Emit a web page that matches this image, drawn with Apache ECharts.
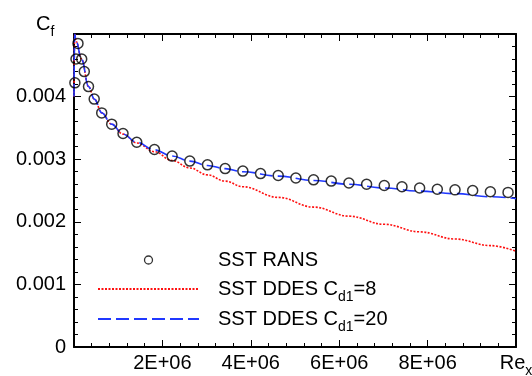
<!DOCTYPE html>
<html>
<head>
<meta charset="utf-8">
<script src="https://cdn.jsdelivr.net/npm/echarts@6/dist/echarts.min.js"></script>
<style>
  html, body { margin: 0; padding: 0; background: #fff; }
  #chart { width: 532px; height: 376px; }
</style>
</head>
<body>
<div id="chart"></div>
<script>
// SST RANS (circles)
const ransX = [0.02e6, 0.045e6, 0.09e6, 0.174e6, 0.233e6, 0.328e6, 0.457e6, 0.627e6, 0.853e6, 1.109e6,
  1.42e6, 1.82e6, 2.22e6, 2.62e6, 3.02e6, 3.42e6, 3.82e6, 4.22e6, 4.62e6, 5.02e6, 5.42e6,
  5.82e6, 6.22e6, 6.62e6, 7.02e6, 7.42e6, 7.82e6, 8.22e6, 8.62e6, 9.02e6, 9.42e6, 9.82e6];
const ransY = [0.00422, 0.00460, 0.00485, 0.00460, 0.00440, 0.00416, 0.00396, 0.00374, 0.00356, 0.00341,
  0.00327, 0.003155, 0.00305, 0.00297, 0.00291, 0.00285, 0.00281, 0.00277, 0.00274, 0.00270, 0.00267,
  0.00265, 0.00262, 0.00260, 0.00258, 0.00256, 0.00254, 0.00252, 0.00251, 0.00250, 0.00248, 0.00247];

// SST DDES Cd1=8 (red dotted)
const ddes8X = [0, 0.015e6, 0.05e6, 0.17e6, 0.33e6, 0.46e6, 0.63e6, 0.85e6, 1.11e6, 1.42e6,
  1.82e6, 2.22e6, 2.62e6, 3.02e6, 3.42e6, 3.82e6, 4.62e6, 5.42e6, 6.22e6, 7.02e6, 7.82e6, 8.62e6, 9.42e6, 10e6];
const ddes8Y = [0.0040, 0.0050, 0.00488, 0.00460, 0.00416, 0.00396, 0.00374, 0.00356, 0.00340, 0.00326,
  0.00312, 0.00298, 0.00286, 0.00275, 0.00265, 0.00256, 0.00239, 0.002235, 0.00209, 0.00196, 0.00184, 0.001725, 0.00162, 0.00153];

// SST DDES Cd1=20 (blue dashed)
const ddes20X = [0, 0.015e6, 0.05e6, 0.17e6, 0.33e6, 0.46e6, 0.63e6, 0.85e6, 1.11e6, 1.42e6,
  1.82e6, 2.22e6, 2.62e6, 3.02e6, 3.42e6, 3.82e6, 4.62e6, 5.42e6, 6.22e6, 7.02e6, 7.82e6, 8.62e6, 9.42e6, 10e6];
const ddes20Y = [0.0040, 0.0050, 0.00488, 0.00460, 0.00416, 0.00396, 0.00374, 0.00356, 0.00340, 0.00327,
  0.00315, 0.00305, 0.00297, 0.00290, 0.00285, 0.00280, 0.00273, 0.00266, 0.00260, 0.00254, 0.00249, 0.00245, 0.00240, 0.00237];

const xTicks = { min: 0, max: 1e7, interval: 2e6 };
const yTicks = { min: 0, max: 0.005, interval: 0.001 };

const FONT = 'Liberation Sans';

function zip(xs, ys) {
  return xs.map((x, i) => [x, ys[i]]);
}

// subscript style for rich text
const sub = { fontSize: 14, fontFamily: FONT, color: '#000', padding: [16, 0, 0, 0] };

const axisCommon = {
  type: 'value',
  axisLine: { show: true, onZero: false, lineStyle: { color: '#000', width: 2 } },
  axisTick: { show: true, inside: true, length: 7, lineStyle: { color: '#000', width: 1 } },
  minorTick: { show: true, splitNumber: 5, length: 4, lineStyle: { color: '#000', width: 1 } },
  splitLine: { show: false },
  axisLabel: { color: '#000', fontSize: 20, fontFamily: FONT }
};

const chart = echarts.init(document.getElementById('chart'));

chart.setOption({
  animation: false,
  backgroundColor: '#fff',
  title: {
    text: 'C{s|f}',
    left: 36,
    top: 9,
    padding: 0,
    textStyle: {
      fontSize: 20, fontFamily: FONT, color: '#000', fontWeight: 'normal',
      rich: { s: sub }
    }
  },
  grid: { left: 74, right: 16, top: 34, bottom: 29, containLabel: false, outerBoundsMode: 'none' },
  xAxis: [
    Object.assign({}, axisCommon, {
      position: 'bottom',
      min: xTicks.min, max: xTicks.max, interval: xTicks.interval,
      axisLabel: Object.assign({}, axisCommon.axisLabel, {
        margin: 6,
        showMinLabel: true,
        showMaxLabel: true,
        formatter: v => {
          if (v === 0) return '';
          if (v >= 1e7) return '{r|Re}{s|x}';
          return (v / 1e6) + 'E+06';
        },
        rich: {
          r: { fontSize: 20, fontFamily: FONT, color: '#000', padding: [0, 0, 10, 0] },
          s: { fontSize: 14, fontFamily: FONT, color: '#000', padding: [6, 0, 0, 0] }
        }
      })
    }),
    Object.assign({}, axisCommon, {
      position: 'top',
      min: xTicks.min, max: xTicks.max, interval: xTicks.interval,
      axisLabel: { show: false }
    })
  ],
  yAxis: [
    Object.assign({}, axisCommon, {
      position: 'left',
      min: yTicks.min, max: yTicks.max, interval: yTicks.interval,
      axisLabel: Object.assign({}, axisCommon.axisLabel, {
        margin: 8,
        formatter: v => {
          if (Math.abs(v) < 1e-9) return '0';
          if (v > 0.00499) return '';
          return v.toFixed(3);
        }
      })
    }),
    Object.assign({}, axisCommon, {
      position: 'right',
      min: yTicks.min, max: yTicks.max, interval: yTicks.interval,
      axisLabel: { show: false }
    })
  ],
  legend: {
    orient: 'vertical',
    left: 97,
    top: 246,
    padding: 0,
    itemWidth: 101,
    itemHeight: 8,
    itemGap: 0,
    symbolKeepAspect: true,
    selectedMode: false,
    formatter: name => name.replace('Cd1', 'C{s|d1}'),
    textStyle: {
      fontSize: 20, fontFamily: FONT, color: '#000',
      lineHeight: 28,
      padding: [0, 0, 0, 14],
      rich: { s: Object.assign({}, sub, { lineHeight: 14 }) }
    },
    data: [
      { name: 'SST RANS', icon: 'circle',
        itemStyle: { color: 'rgba(0,0,0,0)', borderColor: '#000', borderWidth: 1.3 } },
      { name: 'SST DDES Cd1=8', itemStyle: { opacity: 0 } },
      { name: 'SST DDES Cd1=20', itemStyle: { opacity: 0 } }
    ]
  },
  series: [
    {
      name: 'SST RANS',
      type: 'scatter',
      data: zip(ransX, ransY),
      symbol: 'circle',
      symbolSize: 10,
      itemStyle: { color: 'rgba(0,0,0,0)', borderColor: '#000', borderWidth: 1.5 },
      z: 3
    },
    {
      name: 'SST DDES Cd1=8',
      type: 'line',
      data: zip(ddes8X, ddes8Y),
      symbol: 'none',
      smooth: 0.4,
      smoothMonotone: 'x',
      lineStyle: { color: '#ff1010', width: 1.6, type: [2, 1.5] },
      itemStyle: { color: '#ff1010' },
      z: 2
    },
    {
      name: 'SST DDES Cd1=20',
      type: 'line',
      data: zip(ddes20X, ddes20Y),
      symbol: 'none',
      smooth: 0.4,
      smoothMonotone: 'x',
      lineStyle: { color: '#2038ff', width: 1.6, type: [13, 5] },
      itemStyle: { color: '#2038ff' },
      z: 2
    }
  ]
});
</script>
</body>
</html>
